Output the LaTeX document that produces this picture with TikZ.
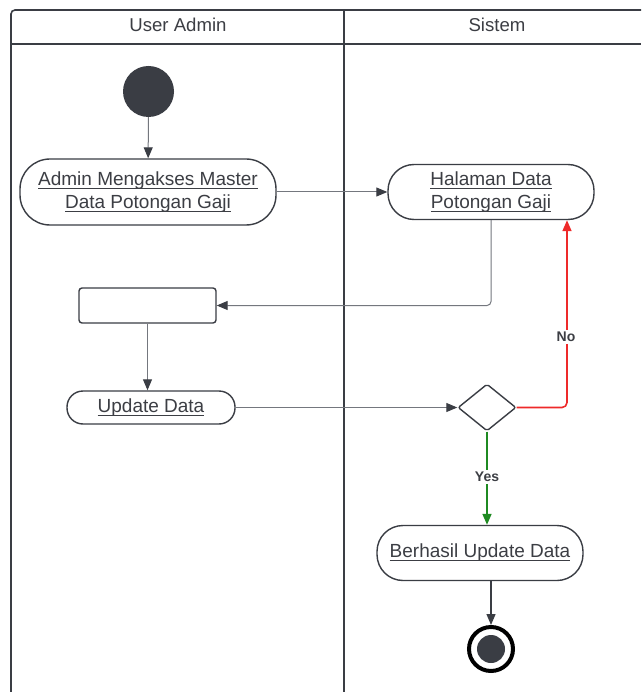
\documentclass[tikz,border=0pt]{standalone}
\usepackage{fontspec}
\setmainfont{Liberation Sans}
\usetikzlibrary{arrows.meta,shapes.geometric}
\definecolor{ink}{HTML}{3A3D44}
\definecolor{txt}{HTML}{3C3E44}
\definecolor{wire}{HTML}{74777E}
\definecolor{nored}{HTML}{EE2A2A}
\definecolor{yesgreen}{HTML}{1F8A22}
% underline at a fixed distance below the baseline
\newsavebox\ulbox
\newcommand\ulx[1]{\sbox\ulbox{#1}\rlap{\rule[-3pt]{\wd\ulbox}{0.9pt}}\usebox\ulbox}
\begin{document}
\begin{tikzpicture}[x=1pt,y=-1pt,
  font=\fontsize{19}{23}\selectfont,
  act/.style={draw=ink, line width=1.4pt, text=txt, align=center, inner sep=0pt},
  flow/.style={draw=wire, line width=1pt, -{Triangle[length=11pt,width=9pt,color=ink]}},
  lbl/.style={fill=white, font=\bfseries\fontsize{14}{16}\selectfont, text=txt, inner sep=2pt}]
\useasboundingbox (0,0) rectangle (641,692);
\fill[white] (0,0) rectangle (641,692);

% swimlanes
\draw[ink, line width=1.6pt, rounded corners=4pt] (641,10) -- (11,10) -- (11,692);
\draw[ink, line width=1.6pt] (11,44) -- (641,44);
\draw[ink, line width=1.6pt] (344,10) -- (344,692);
\node[text=txt, font=\fontsize{18.6}{22}\selectfont] (laneA) at (178,25) {User Admin};
\node[text=txt, font=\fontsize{18.6}{22}\selectfont] (laneB) at (497,25) {Sistem};

% activity nodes
\node[circle, fill=ink, minimum size=51pt, inner sep=0pt] (start) at (148.5,91.5) {};
\node[act, rounded corners=30pt, minimum width=256pt, minimum height=66pt] (n1) at (148,192)
  {\ulx{Admin Mengakses Master}\\\ulx{Data Potongan Gaji}};
\node[act, rounded corners=26pt, minimum width=206pt, minimum height=55pt] (n2) at (491,192)
  {\ulx{Halaman Data}\\\ulx{Potongan Gaji}};
\node[act, rounded corners=3pt, minimum width=137pt, minimum height=35pt] (box) at (147.5,305.5) {};
\node[act, rounded corners=16pt, minimum width=168pt, minimum height=33pt] (upd) at (151,407.5)
  {\ulx{Update Data}};
\node[act, diamond, rounded corners=2pt, minimum width=58pt, minimum height=47pt] (dec) at (487,407.5) {};
\node[act, rounded corners=26pt, minimum width=206pt, minimum height=55pt] (ok) at (480,553)
  {\ulx{Berhasil Update Data}};
\node[circle, draw=black, line width=4pt, minimum size=44pt, inner sep=0pt] (stop) at (491,649) {};
\fill[ink] (stop.center) circle[radius=14pt];

% control flow
\draw[flow] (start) -- (n1);
\draw[flow] (n1.east) -- (n2.west);
\draw[flow, rounded corners=4pt] (n2.south) |- (box.east);
\draw[flow] (box.south) -- (box.south |- upd.north);
\draw[flow] (upd.east) -- (dec.west);
\coordinate (noturn) at (567,407.5);
\draw[nored, line width=1.6pt, rounded corners=5pt, -{Triangle[length=11pt,width=9pt]}]
  (dec.east) -- (noturn) -- (noturn |- n2.south);
\node[lbl] (nolbl) at (566,337) {No};
\draw[yesgreen, line width=1.6pt, -{Triangle[length=11pt,width=9pt]}]
  (dec.south) -- (dec.south |- ok.north);
\node[lbl] (yeslbl) at (487,477) {Yes};
\draw[ink, line width=1.2pt, -{Triangle[length=11pt,width=9pt]}]
  (stop.north |- ok.south) -- (stop.north);
\end{tikzpicture}
\end{document}
